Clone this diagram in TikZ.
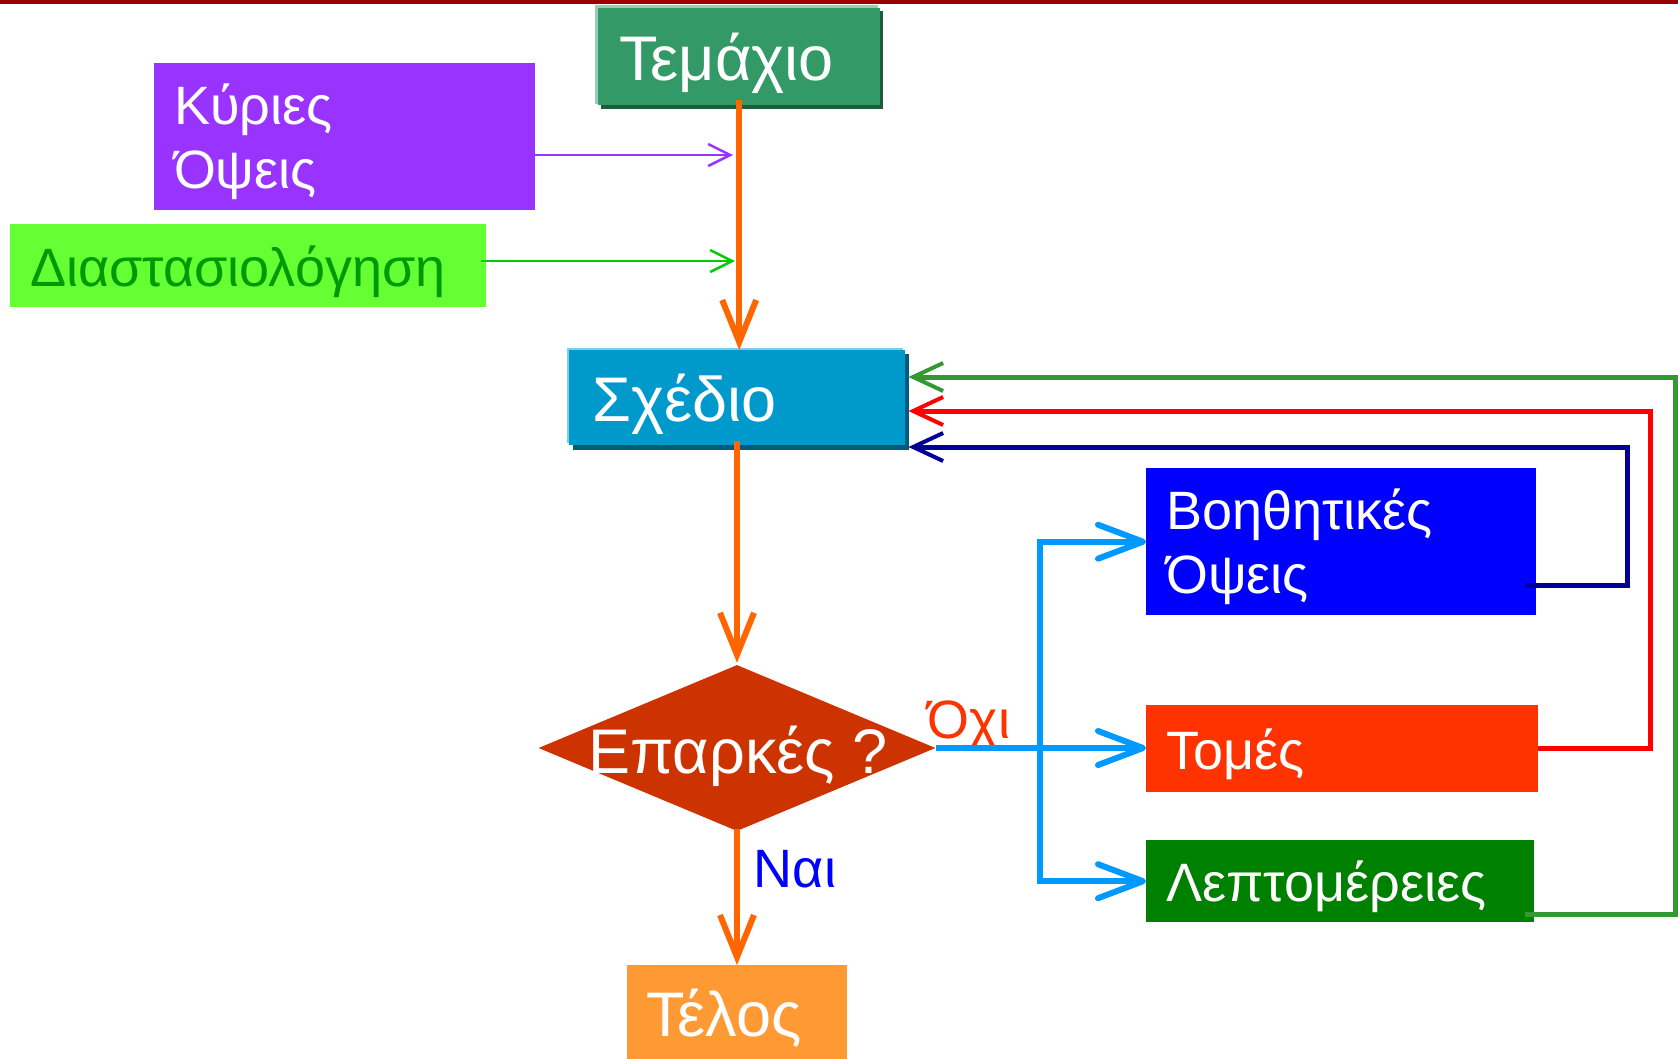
\documentclass[tikz,border=0pt]{standalone}
\usepackage{fontspec}
\setmainfont{Liberation Sans}
\usetikzlibrary{arrows.meta,shapes.geometric,calc}
\definecolor{topred}{HTML}{990000}
\definecolor{temc}{HTML}{339966}
\definecolor{temlight}{HTML}{99CCB3}
\definecolor{temdark}{HTML}{1E5C3D}
\definecolor{schc}{HTML}{0099CC}
\definecolor{schlight}{HTML}{80CCE6}
\definecolor{schdark}{HTML}{005C7A}
\definecolor{purp}{HTML}{9933FF}
\definecolor{lime}{HTML}{66FF33}
\definecolor{dgreen}{HTML}{009900}
\definecolor{garrow}{HTML}{00CC00}
\definecolor{orng}{HTML}{FF6600}
\definecolor{dred}{HTML}{CC3300}
\definecolor{ochi}{HTML}{FF3300}
\definecolor{bluel}{HTML}{0099FF}
\definecolor{boeth}{HTML}{0000FF}
\definecolor{tomc}{HTML}{FF3300}
\definecolor{leptc}{HTML}{008000}
\definecolor{telc}{HTML}{FF9933}
\definecolor{navyc}{HTML}{000099}
\definecolor{redc}{HTML}{FF0000}
\definecolor{fbgreen}{HTML}{339933}
\newcommand\fbig{\fontsize{63}{68}\selectfont}
\newcommand\fsmall{\fontsize{54}{64}\selectfont}
\newcommand\flab{\fontsize{54}{60}\selectfont}
\begin{document}
\begin{tikzpicture}[x=1pt,y=-1pt,
  box/.style={anchor=north west, inner xsep=20pt, inner ysep=0pt, align=left, text=white, font=\fsmall},
  onebox/.style={box, text depth=0pt},
  twobox/.style={box, text depth=65pt},
  orarrow/.style={draw=orng, line width=6pt, -{Straight Barb[length=42pt,width=34pt,line width=6pt]}},
  thinarrow/.style={line width=2.5pt, -{Straight Barb[length=22pt,width=22pt,line width=2.5pt]}},
  blarrow/.style={draw=bluel, line width=6pt, -{Straight Barb[length=45pt,width=34pt,line width=6pt, round]}},
  fbarrow/.style={line width=5pt, -{Straight Barb[length=30pt,width=28pt,line width=4pt]}}
]
\useasboundingbox (0,0) rectangle (1678,1058);
\fill[white] (0,0) rectangle (1678,1058);
\fill[topred] (0,0) rectangle (1678,4);

% Temaxio
\fill[temlight] (595,5) rectangle (878,104);
\fill[temdark] (601,11) rectangle (883,109);
\node[onebox, font=\fbig, fill=temc, minimum width=282pt, minimum height=97pt, text width=240pt, inner xsep=21pt] (temaxio) at (598,8) {Τεμάχιο};

% Kyries Opseis
\node[twobox, fill=purp, minimum width=379pt, minimum height=147pt, text width=341pt] (kyries) at (154,63) {Κύριες\\Όψεις};

% Diastasiologisi
\node[onebox, fill=lime, text=dgreen, minimum width=474pt, minimum height=83pt, text width=436pt] (diast) at (10,224) {Διαστασιολόγηση};

% Sxedio
\fill[schlight] (567,348) rectangle (903,443);
\fill[schdark] (573,354) rectangle (909,450);
\node[onebox, font=\fbig, fill=schc, minimum width=336pt, minimum height=95pt, text width=290pt, inner xsep=23pt] (sxedio) at (569,350) {Σχέδιο};

% Diamond
\node[diamond, fill=dred, minimum width=397pt, minimum height=166pt, inner sep=0pt] (dmd) at (737,748) {};
\node[anchor=base, text=white, font=\fbig, inner sep=0pt] (dtext) at (738,773) {Επαρκές ?};

% Right boxes
\node[twobox, fill=boeth, minimum width=390pt, minimum height=147pt, text width=350pt] (boethi) at (1146,468) {Βοηθητικές\\Όψεις};
\node[onebox, fill=tomc, minimum width=392pt, minimum height=87pt, text width=352pt] (tomes) at (1146,705) {Τομές};
\node[onebox, fill=leptc, minimum width=388pt, minimum height=82pt, text width=348pt] (lept) at (1146,840) {Λεπτομέρειες};

% Telos
\node[onebox, font=\fbig, fill=telc, minimum width=220pt, minimum height=95pt, text width=182pt, inner xsep=19pt] (telos) at (627,965) {Τέλος};

% labels
\node[anchor=base, text=ochi, font=\flab, inner sep=0pt] (ochilab) at (969,738) {Όχι};
\node[anchor=base, text=boeth, font=\flab, inner sep=0pt] (nailab) at (795,887) {Ναι};

% coordinates
\coordinate (pin) at (733,155);
\coordinate (gin) at (735,261);
\coordinate (branch) at (1040,748);
\coordinate (navst) at (1525,585);
\coordinate (navc) at (1627,447);
\coordinate (redc1) at (1650,411);
\coordinate (grst) at (1525,914);
\coordinate (grc) at (1675,377);

% orange flow
\draw[orarrow] ([yshift=5pt]temaxio.south) -- (temaxio.south |- sxedio.north);
\draw[orarrow] ([yshift=4pt]sxedio.south -| dmd.north) -- ([yshift=2pt]dmd.north);
\draw[orarrow] ([yshift=2pt]dmd.south) -- (dmd.south |- telos.north);

% side inputs
\draw[thinarrow, draw=purp] ([xshift=-9pt]kyries.east |- pin) -- (pin);
\draw[thinarrow, draw=garrow] ([xshift=-5pt]diast.east |- gin) -- (gin);

% blue branches
\draw[blarrow] (dmd.east) -- (tomes.west |- branch);
\draw[blarrow] (branch) |- (boethi.west);
\draw[blarrow] (branch) |- (lept.west);

% feedback
\draw[fbarrow, draw=navyc] (navst) -| (navc) -- ([xshift=3pt]sxedio.east |- navc);
\draw[fbarrow, draw=redc] (tomes.east |- branch) -| (redc1) -- ([xshift=3pt]sxedio.east |- redc1);
\draw[fbarrow, draw=fbgreen] (grst) -| (grc) -- ([xshift=3pt]sxedio.east |- grc);
\end{tikzpicture}
\end{document}
